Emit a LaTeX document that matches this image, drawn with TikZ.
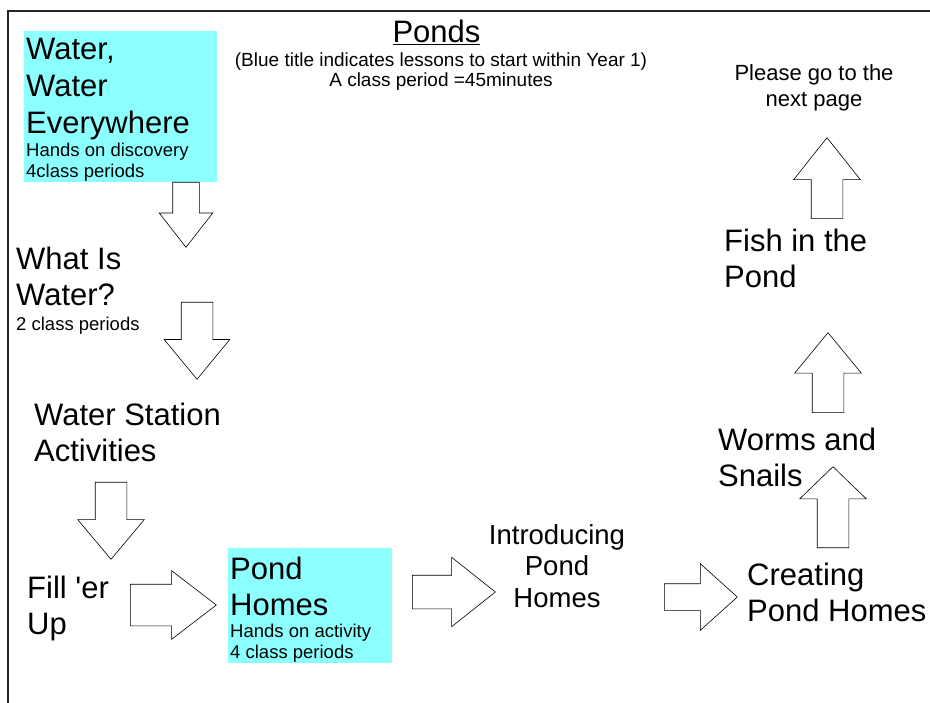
\documentclass[tikz,border=0pt]{standalone}
\usepackage{fontspec}
\setmainfont{Liberation Sans}
\usetikzlibrary{shapes.arrows}

\definecolor{pondblue}{RGB}{140,255,255}

\begin{document}
\begin{tikzpicture}[
    x=1pt, y=-1pt,
    bigtext/.style={align=left, anchor=north west, inner sep=0pt, font=\fontsize{31}{35.5}\selectfont},
    smalltext/.style={align=left, anchor=north west, inner sep=0pt, font=\fontsize{18.5}{21}\selectfont},
    blockarrow/.style n args={4}{single arrow, draw=black, fill=white, line width=0.6pt,
      inner xsep=0pt, inner ysep={#3/2}, single arrow head indent=0pt, anchor=tail,
      minimum height=#1, single arrow head extend={(#2-#3)/2}, single arrow tip angle=#4}
  ]
  \useasboundingbox (0,0) rectangle (930,703);
  % page edges
  \draw[line width=1.1pt, black!85] (8,703) -- (8,11) -- (930,11);

  % blue title boxes
  \fill[pondblue] (24,31) rectangle (217,182);
  \fill[pondblue] (228,548) rectangle (392,663);

  % block arrows: length, head width, shaft width, tip angle
  \node[blockarrow={65}{53}{26}{76}, rotate=-90] (a1) at (186,182) {};
  \node[blockarrow={77}{65}{31}{79}, rotate=-90] (a2) at (197,302) {};
  \node[blockarrow={77}{66}{31}{80}, rotate=-90] (a3) at (111,482) {};
  \node[blockarrow={86}{68}{41}{75}] (a4) at (130,605) {};
  \node[blockarrow={83}{69}{33}{77}] (a5) at (412,592) {};
  \node[blockarrow={73}{66}{26}{84}] (a6) at (664,597) {};
  \node[blockarrow={81}{66}{31}{92}, rotate=90] (a7) at (833,548) {};
  \node[blockarrow={80}{66}{31}{79}, rotate=90] (a8) at (828,413) {};
  \node[blockarrow={81}{66}{31}{77}, rotate=90] (a9) at (827,219) {};

  % headings
  \node[anchor=north, inner sep=0pt, font=\fontsize{31}{34}\selectfont] (title) at (436.5,20) {\underline{Ponds}};
  \node[anchor=north, inner sep=0pt, align=center, font=\fontsize{19}{20}\selectfont] (note) at (441,53)
    {(Blue title indicates lessons to start within Year 1)\\A class period =45minutes};

  % lessons
  \node[bigtext, font=\fontsize{31}{37}\selectfont] (water) at (26,38) {Water,\\Water\\Everywhere};
  \node[smalltext] (waterinfo) at (26,143) {Hands on discovery\\4class periods};
  \node[bigtext] (what) at (16,247) {What Is\\Water?};
  \node[smalltext] (whatinfo) at (16,317) {2 class periods};
  \node[bigtext] (station) at (34,403) {Water Station\\Activities};
  \node[bigtext] (fill) at (27,576) {Fill \textquotesingle er\\Up};
  \node[bigtext] (pond) at (230,557) {Pond\\Homes};
  \node[smalltext] (pondinfo) at (230,624) {Hands on activity\\4 class periods};
  \node[anchor=north, inner sep=0pt, align=center, font=\fontsize{27.5}{31.5}\selectfont] (intro) at (557,524)
    {Introducing\\Pond\\Homes};
  \node[bigtext] (creating) at (747,563) {Creating\\Pond Homes};
  \node[bigtext] (worms) at (718,428) {Worms and\\Snails};
  \node[bigtext] (fish) at (724,229) {Fish in the\\Pond};
  \node[anchor=north, inner sep=0pt, align=center, font=\fontsize{22}{26}\selectfont] (next) at (814,64)
    {Please go to the\\next page};
\end{tikzpicture}
\end{document}
